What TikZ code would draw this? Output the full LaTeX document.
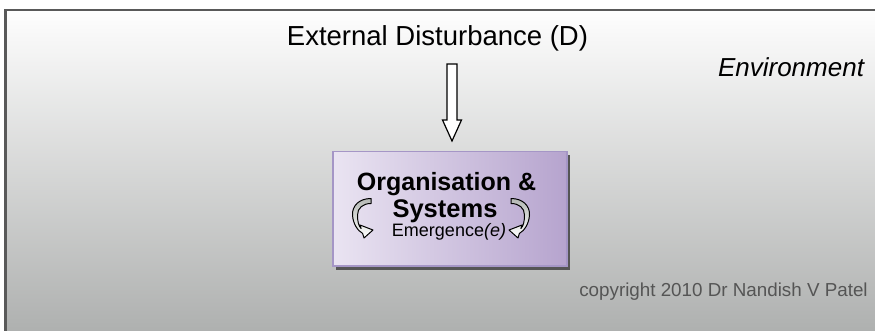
\documentclass[tikz,border=0pt]{standalone}
\usepackage{fontspec}
\setmainfont{Liberation Sans}
\usetikzlibrary{calc}
\definecolor{frameline}{HTML}{595959}
\definecolor{paneltop}{HTML}{FEFEFE}
\definecolor{panelbottom}{HTML}{ABADAC}
\definecolor{boxlight}{HTML}{EAE4F2}
\definecolor{boxdark}{HTML}{B6A4CE}
\definecolor{boxedge}{HTML}{A596C6}
\definecolor{boxshadow}{HTML}{555555}
\definecolor{noteink}{HTML}{555555}
\definecolor{swirltop}{HTML}{B4B8B4}
\tikzset{
  label/.style={inner sep=0pt, outer sep=0pt},
  blockarrow/.style={draw=black, line width=1.2pt, fill=white, line join=miter},
  swirlstyle/.style={draw=black, line width=1pt, top color=swirltop, bottom color=white, line join=round},
  pics/swirl/.style={code={
    \path[swirlstyle]
      (371,198.5) .. controls (359,198.5) and (352,206) .. (352.5,215)
      .. controls (353,224) and (358,231) .. (362.6,233.4)
      -- (364,238) -- (373,230) -- (360,225) -- (361.1,228.5)
      .. controls (358.5,226) and (357.5,221) .. (357.5,215)
      .. controls (357.5,208) and (363,203.5) .. (371,203.5) -- cycle;
  }}
}
\begin{document}
\begin{tikzpicture}[x=1pt,y=-1pt]
\useasboundingbox (0,0) rectangle (875,331);
\clip (0,0) rectangle (875,331);

% environment panel
\shade[top color=paneltop, bottom color=panelbottom] (5.5,10) rectangle (890,345);
\draw[frameline, line width=2.5pt] (5.5,345) -- (5.5,10) -- (890,10);

% labels in the environment
\node[label, anchor=base, font=\fontsize{27.5}{30}\selectfont] (dist) at (437.5,46) {External Disturbance (D)};
\node[label, anchor=base east, font=\fontsize{26}{28}\selectfont\itshape] (env) at (864,76.7) {Environment};
\node[label, anchor=base, text=noteink, font=\fontsize{18.8}{20}\selectfont] (note) at (723.5,296) {copyright 2010 Dr Nandish V Patel};

% organisation box with its shadow
\fill[boxshadow] (336,155) rectangle (570,269.5);
\node[draw=boxedge, line width=1.5pt, left color=boxlight, right color=boxdark,
      minimum width=234pt, minimum height=114pt, anchor=north west, inner sep=0pt] (org) at (332,151) {};

\node[label, anchor=base, font=\fontsize{25}{27}\selectfont\bfseries] (orgt) at (446.5,190.5) {Organisation \&};
\node[label, anchor=base, font=\fontsize{25.5}{27}\selectfont\bfseries] (syst) at (445,217.5) {Systems};
\node[label, anchor=base, font=\fontsize{18}{20}\selectfont] (emer) at (449,236.7) {Emergence\textit{(e)}};

% circular arrows either side of the title
\pic (lswirl) at (0,0) {swirl};
\pic[xscale=-1] (rswirl) at (882,0) {swirl};

% hollow block arrow from the disturbance down to the box
\coordinate (atop) at (452,64);
\coordinate (atip) at ($(org.north -| atop)+(0,-10)$);
\draw[blockarrow]
  ($(atop)+(-5,0)$) -- ($(atop)+(5,0)$) -- ($(atip)+(5,-21)$) -- ($(atip)+(9.5,-21)$)
  -- (atip) -- ($(atip)+(-9.5,-21)$) -- ($(atip)+(-5,-21)$) -- cycle;
\end{tikzpicture}
\end{document}
